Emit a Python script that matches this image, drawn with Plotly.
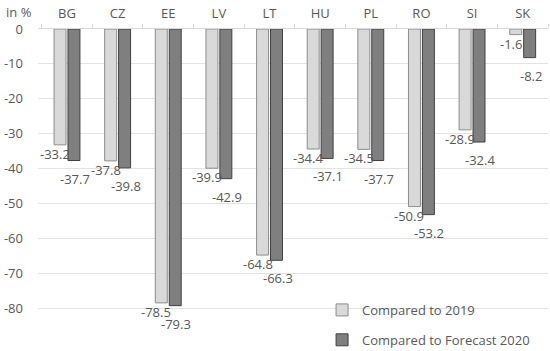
import plotly.graph_objects as go

categories = ["BG", "CZ", "EE", "LV", "LT", "HU", "PL", "RO", "SI", "SK"]
vs_2019 = [-33.2, -37.8, -78.5, -39.9, -64.8, -34.4, -34.5, -50.9, -28.9, -1.6]
vs_forecast_2020 = [-37.7, -39.8, -79.3, -42.9, -66.3, -37.1, -37.7, -53.2, -32.4, -8.2]
y_ticks = [0, -10, -20, -30, -40, -50, -60, -70, -80, -90]

FONT = "Open Sans"
TXT = "#595959"

fig = go.Figure()
fig.add_trace(go.Bar(
    x=categories, y=vs_2019, name="Compared to 2019",
    marker=dict(color="#d9d9d9", line=dict(color="#8c8c8c", width=1)),
    legendgroup="a",
))
fig.add_trace(go.Bar(
    x=categories, y=vs_forecast_2020, name="Compared to Forecast 2020",
    marker=dict(color="#7f7f7f", line=dict(color="#404040", width=1)),
    legendgroup="b",
))

annotations = []
for c, v in zip(categories, vs_2019):
    annotations.append(dict(x=c, y=v, xref="x", yref="y", text=f"{v:.1f}",
                            showarrow=False, xshift=-12, yshift=-9,
                            yanchor="middle", xanchor="center",
                            font=dict(family=FONT, size=13, color=TXT)))
for c, v in zip(categories, vs_forecast_2020):
    annotations.append(dict(x=c, y=v, xref="x", yref="y", text=f"{v:.1f}",
                            showarrow=False, xshift=8, yshift=-18,
                            yanchor="middle", xanchor="center",
                            font=dict(family=FONT, size=13, color=TXT)))
annotations.append(dict(x=0, y=1, xref="paper", yref="paper", text="in %",
                        showarrow=False, xshift=-34, yshift=17,
                        xanchor="left", yanchor="middle",
                        font=dict(family=FONT, size=13, color=TXT)))

fig.update_layout(
    width=550, height=351,
    margin=dict(l=38, r=2, t=29, b=8, autoexpand=False),
    paper_bgcolor="white", plot_bgcolor="white",
    barmode="group", bargap=0.45, bargroupgap=0.14,
    font=dict(family=FONT, size=13, color=TXT),
    showlegend=True,
    legend=dict(x=0.557, y=0.153, xanchor="left", yanchor="top",
                bgcolor="rgba(255,255,255,0)", tracegroupgap=10,
                font=dict(family=FONT, size=13, color=TXT)),
    annotations=annotations,
)
fig.update_xaxes(side="top", showline=True, linecolor="#d9d9d9", linewidth=1,
                 ticks="outside", tickson="boundaries", ticklen=4,
                 tickcolor="#d9d9d9", showgrid=False, automargin=False,
                 ticklabelstandoff=5,
                 tickfont=dict(family=FONT, size=13, color=TXT))
fig.update_yaxes(range=[-90, 0], tickvals=y_ticks, ticktext=[str(t) for t in y_ticks],
                 showgrid=True, gridcolor="#e3e3e3", gridwidth=1, automargin=False,
                 zeroline=False, ticks="", ticklabelstandoff=14,
                 tickfont=dict(family=FONT, size=13, color=TXT))

fig.write_html("out.html", config={"displayModeBar": False},
               post_script="document.body.style.margin='0';")
